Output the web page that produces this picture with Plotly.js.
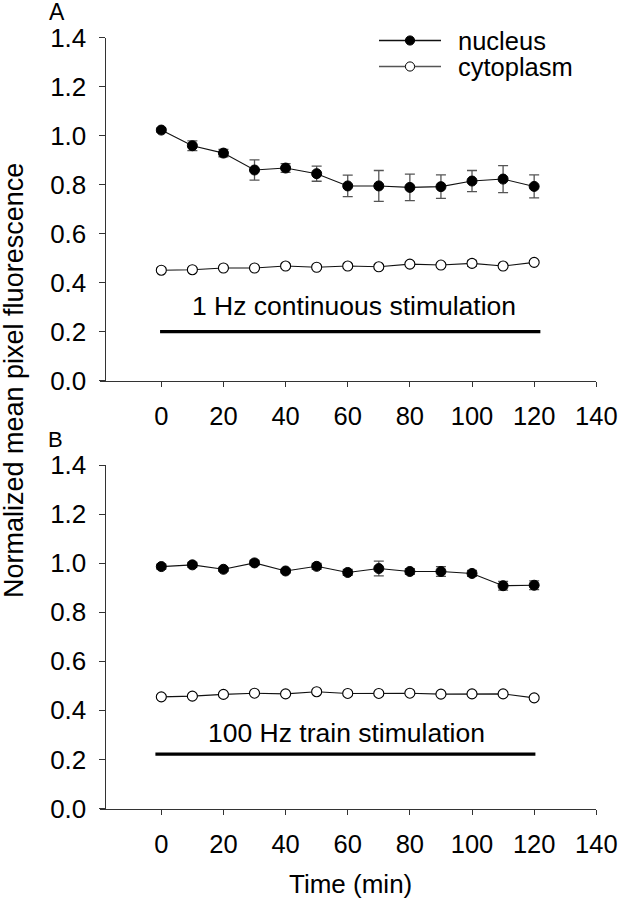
<!DOCTYPE html>
<html>
<head>
<meta charset="utf-8">
<script src="https://cdn.plot.ly/plotly-3.0.1.min.js"></script>
<style>html,body{margin:0;padding:0;background:#fff;}#chart{width:618px;height:900px;}</style>
</head>
<body>
<div id="chart"></div>
<script>
// ---- data ----
const timeMin = [0, 10, 20, 30, 40, 50, 60, 70, 80, 90, 100, 110, 120];

const nucleusA    = [1.023, 0.959, 0.929, 0.860, 0.868, 0.845, 0.795, 0.795, 0.789, 0.792, 0.815, 0.823, 0.793];
const nucleusAErr = [0.008, 0.020, 0.015, 0.041, 0.018, 0.031, 0.044, 0.063, 0.054, 0.048, 0.043, 0.055, 0.047];
const cytoA       = [0.451, 0.453, 0.460, 0.460, 0.468, 0.463, 0.468, 0.465, 0.476, 0.472, 0.479, 0.468, 0.483];
const cytoAErr    = [0.008, 0.006, 0.006, 0.006, 0.008, 0.008, 0.008, 0.008, 0.008, 0.008, 0.012, 0.006, 0.006];

const nucleusB    = [0.986, 0.993, 0.975, 1.001, 0.968, 0.987, 0.962, 0.978, 0.966, 0.966, 0.958, 0.908, 0.910];
const nucleusBErr = [0.010, 0.010, 0.008, 0.010, 0.008, 0.012, 0.012, 0.030, 0.012, 0.020, 0.012, 0.018, 0.018];
const cytoB       = [0.455, 0.458, 0.465, 0.470, 0.467, 0.476, 0.469, 0.469, 0.470, 0.466, 0.467, 0.467, 0.451];
const cytoBErr    = [0.006, 0.005, 0.005, 0.005, 0.005, 0.006, 0.005, 0.005, 0.005, 0.005, 0.005, 0.005, 0.006];

const stimAX = [-0.4, 122];
const stimAY = [0.2, 0.2];
const stimBX = [-1.9, 120.4];
const stimBY = [0.222, 0.222];

const xTicks = [0, 20, 40, 60, 80, 100, 120, 140];
const yTicks = [0, 0.2, 0.4, 0.6, 0.8, 1.0, 1.2, 1.4];
const yTickText = ['0.0', '0.2', '0.4', '0.6', '0.8', '1.0', '1.2', '1.4'];

const seriesNames = ['nucleus', 'cytoplasm'];
const stimLabelA = '1 Hz continuous stimulation';
const stimLabelB = '100 Hz train stimulation';
const xTitle = 'Time (min)';
const yTitle = 'Normalized mean pixel fluorescence';

// ---- styling / layout ----
const FONT = 'Liberation Sans, Arial, sans-serif';
const W = 618, H = 900;
const px = v => v / W;
const py = v => 1 - v / H;

function errBar(arr) {
  return {type: 'data', array: arr, visible: true, color: '#555', thickness: 1.3, width: 5};
}
function nucTrace(y, e, xa, ya) {
  return {x: timeMin, y: y, error_y: errBar(e), xaxis: xa, yaxis: ya, type: 'scatter',
    mode: 'lines+markers', name: seriesNames[0], showlegend: false,
    line: {color: '#111', width: 1.1},
    marker: {symbol: 'circle', size: 10, color: '#000', line: {color: '#000', width: 1}}};
}
function cytTrace(y, e, xa, ya) {
  return {x: timeMin, y: y, error_y: errBar(e), xaxis: xa, yaxis: ya, type: 'scatter',
    mode: 'lines+markers', name: seriesNames[1], showlegend: false,
    line: {color: '#111', width: 1.1},
    marker: {symbol: 'circle', size: 10, color: '#fff', line: {color: '#000', width: 1.1}}};
}
function stimTrace(x, y, xa, ya) {
  return {x: x, y: y, xaxis: xa, yaxis: ya, type: 'scatter', mode: 'lines',
    showlegend: false, hoverinfo: 'skip', line: {color: '#000', width: 3.2}};
}

const data = [
  stimTrace(stimAX, stimAY, 'x', 'y'),
  cytTrace(cytoA, cytoAErr, 'x', 'y'),
  nucTrace(nucleusA, nucleusAErr, 'x', 'y'),
  stimTrace(stimBX, stimBY, 'x2', 'y2'),
  cytTrace(cytoB, cytoBErr, 'x2', 'y2'),
  nucTrace(nucleusB, nucleusBErr, 'x2', 'y2')
];

const xDomain = [px(100.4), px(596.3)];
function xAxis(anchor) {
  return {domain: xDomain, range: [-19.6, 140], anchor: anchor, showline: true,
    linecolor: '#333', linewidth: 1, ticks: 'outside', ticklen: 5, tickwidth: 1,
    tickcolor: '#333', tickvals: xTicks, showgrid: false, zeroline: false,
    ticklabelstandoff: 8, tickfont: {family: FONT, size: 25.5, color: '#000'}, fixedrange: true};
}
function yAxis(domain) {
  return {domain: domain, range: [0, 1.4], anchor: 'free', position: px(104.5),
    showline: true, linecolor: '#333', linewidth: 1, ticks: 'outside', ticklen: 6,
    tickwidth: 1, tickcolor: '#333', tickvals: yTicks, ticktext: yTickText,
    showgrid: false, zeroline: false, ticklabelstandoff: 7,
    tickfont: {family: FONT, size: 26, color: '#000'}, fixedrange: true};
}

// legend drawn as key shapes + labels
const legRows = [40.5, 66.5];
const legLineX = [379, 441], legMarkX = 410, legR = 4.6, legTextX = 456.7;
const shapes = [];
const annotations = [];
legRows.forEach((ry, i) => {
  shapes.push({type: 'line', xref: 'paper', yref: 'paper', x0: px(legLineX[0]), x1: px(legLineX[1]),
    y0: py(ry), y1: py(ry), line: {color: i === 0 ? '#111' : '#555', width: 1.4}});
  shapes.push({type: 'circle', xref: 'paper', yref: 'paper',
    x0: px(legMarkX - legR), x1: px(legMarkX + legR), y0: py(ry + legR), y1: py(ry - legR),
    fillcolor: i === 0 ? '#000' : '#fff', line: {color: '#000', width: 1}});
  annotations.push({xref: 'paper', yref: 'paper', x: px(legTextX), y: py(ry), xanchor: 'left',
    yanchor: 'middle', showarrow: false, text: seriesNames[i], borderpad: 0,
    font: {family: FONT, size: 25.5, color: '#000'}});
});

annotations.push(
  {xref: 'x', yref: 'y', x: 62, y: 0.305, text: stimLabelA, showarrow: false,
   xanchor: 'center', yanchor: 'middle', font: {family: FONT, size: 26.5, color: '#000'}},
  {xref: 'x2', yref: 'y2', x: 59.7, y: 0.308, text: stimLabelB, showarrow: false,
   xanchor: 'center', yanchor: 'middle', font: {family: FONT, size: 26.5, color: '#000'}},
  {xref: 'paper', yref: 'paper', x: px(57), y: py(12.5), text: 'A', showarrow: false,
   xanchor: 'center', yanchor: 'middle', borderpad: 0, font: {family: FONT, size: 23, color: '#000'}},
  {xref: 'paper', yref: 'paper', x: px(55), y: py(439), text: 'B', showarrow: false,
   xanchor: 'center', yanchor: 'middle', borderpad: 0, font: {family: FONT, size: 22, color: '#000'}},
  {xref: 'paper', yref: 'paper', x: px(14), y: py(381), text: yTitle, textangle: -90,
   showarrow: false, xanchor: 'center', yanchor: 'middle',
   font: {family: FONT, size: 27, color: '#000'}},
  {xref: 'paper', yref: 'paper', x: px(350), y: py(884), text: xTitle, showarrow: false,
   xanchor: 'center', yanchor: 'middle', font: {family: FONT, size: 26, color: '#000'}}
);

const layout = {
  width: W, height: H,
  margin: {l: 0, r: 0, t: 0, b: 0, pad: 0},
  paper_bgcolor: '#fff', plot_bgcolor: 'rgba(0,0,0,0)',
  showlegend: false,
  font: {family: FONT, color: '#000'},
  xaxis: xAxis('y'),
  yaxis: yAxis([py(380.7), py(37.7)]),
  xaxis2: xAxis('y2'),
  yaxis2: yAxis([py(808.5), py(465)]),
  shapes: shapes,
  annotations: annotations
};

Plotly.newPlot('chart', data, layout, {staticPlot: true, displayModeBar: false});
</script>
</body>
</html>
